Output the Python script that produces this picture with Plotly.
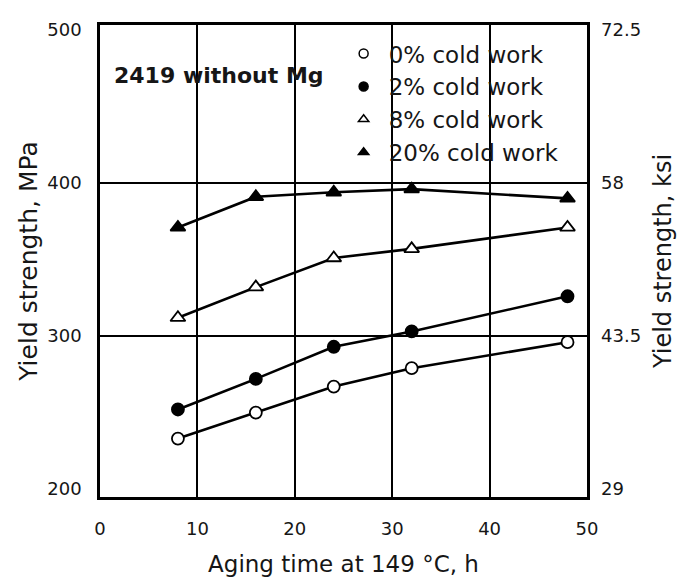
import plotly.graph_objects as go

# Aging time (h) at 149 °C
aging_time = [8, 16, 24, 32, 48]

# Yield strength (MPa) for each level of cold work
ys_0pct = [233, 250, 267, 279, 296]
ys_2pct = [252, 272, 293, 303, 326]
ys_8pct = [312, 332, 351, 357, 371]
ys_20pct = [371, 391, 394, 396, 390]

series_names = ["0% cold work", "2% cold work", "8% cold work", "20% cold work"]
series_values = [ys_0pct, ys_2pct, ys_8pct, ys_20pct]
series_symbols = ["circle", "circle", "triangle-up", "triangle-up"]
series_fills = ["white", "black", "white", "black"]

mpa_ticks = [200, 300, 400, 500]
mpa_grid = [300, 400]
ksi_ticks = [29, 43.5, 58, 72.5]
ksi_labels = ["29", "43.5", "58", "72.5"]
x_ticks = [0, 10, 20, 30, 40, 50]

# MPa axis slightly overhangs the 200-500 labelled span; ksi axis follows it
mpa_range = [194.8, 503.3]
ksi_per_mpa = 0.145
ksi_range = [29 + (mpa_range[0] - 200) * ksi_per_mpa, 29 + (mpa_range[1] - 200) * ksi_per_mpa]

FONT = "DejaVu Sans, Liberation Sans, Arial, sans-serif"
INK = "#161616"
tick_font = dict(family=FONT, size=18, color=INK)

fig = go.Figure()

for name, vals, sym, fill in zip(series_names, series_values, series_symbols, series_fills):
    size = 12 if sym == "circle" else 13
    fig.add_trace(go.Scatter(
        x=aging_time, y=vals, mode="lines+markers", showlegend=False,
        line=dict(color="black", width=2.6),
        marker=dict(symbol=sym, size=size, color=fill, line=dict(color="black", width=1.8)),
        cliponaxis=False,
    ))

# legend entries (markers only)
for name, sym, fill in zip(series_names, series_symbols, series_fills):
    fig.add_trace(go.Scatter(
        x=[None], y=[None], mode="markers", name=name,
        marker=dict(symbol=sym, size=9, color=fill, line=dict(color="black", width=1.5)),
    ))

# empty traces so the ksi scale and the grid-only scale get drawn
fig.add_trace(go.Scatter(x=[None], y=[None], yaxis="y2", showlegend=False, hoverinfo="skip"))
fig.add_trace(go.Scatter(x=[None], y=[None], yaxis="y3", showlegend=False, hoverinfo="skip"))

fig.update_layout(
    width=680, height=581,
    margin=dict(l=100, r=93, t=25, b=84),
    paper_bgcolor="white", plot_bgcolor="white",
    showlegend=True,
    legend=dict(
        x=0.49, y=0.985, xanchor="left", yanchor="top",
        bgcolor="rgba(0,0,0,0)", borderwidth=0,
        font=dict(family=FONT, size=23, color=INK),
        itemwidth=40,
    ),
    xaxis=dict(
        range=[0, 50], tickvals=x_ticks, showgrid=True, gridcolor="black", gridwidth=1.6,
        showline=True, linecolor="black", linewidth=2.6, mirror=True, automargin=False,
        ticks="", tickfont=tick_font, ticklabelstandoff=14, zeroline=False,
        title=dict(text="Aging time at 149 °C, h", font=dict(family=FONT, size=23, color=INK), standoff=18),
    ),
    yaxis=dict(
        range=mpa_range, tickvals=mpa_ticks, showgrid=False, automargin=False,
        showline=True, linecolor="black", linewidth=2.6, mirror=True,
        ticks="", tickfont=tick_font, ticklabelstandoff=12, zeroline=False,
        title=dict(text="Yield strength, MPa", font=dict(family=FONT, size=25, color=INK), standoff=3),
    ),
    yaxis2=dict(
        range=ksi_range, tickvals=ksi_ticks, ticktext=ksi_labels, overlaying="y", side="right",
        showgrid=False, showline=False, ticks="", tickfont=tick_font, ticklabelstandoff=13,
        zeroline=False, automargin=False,
        title=dict(text="Yield strength, ksi", font=dict(family=FONT, size=24, color=INK), standoff=14),
    ),
    yaxis3=dict(
        range=mpa_range, tickvals=mpa_grid, overlaying="y", showgrid=True, gridcolor="black",
        gridwidth=1.6, showticklabels=False, showline=False, ticks="", zeroline=False,
        automargin=False,
    ),
)

fig.add_annotation(
    x=1.2, y=470, xref="x", yref="y", xanchor="left", yanchor="middle",
    text="<b>2419 without Mg</b>", showarrow=False,
    font=dict(family=FONT, size=22, color=INK),
)

fig.write_html("out.html")
